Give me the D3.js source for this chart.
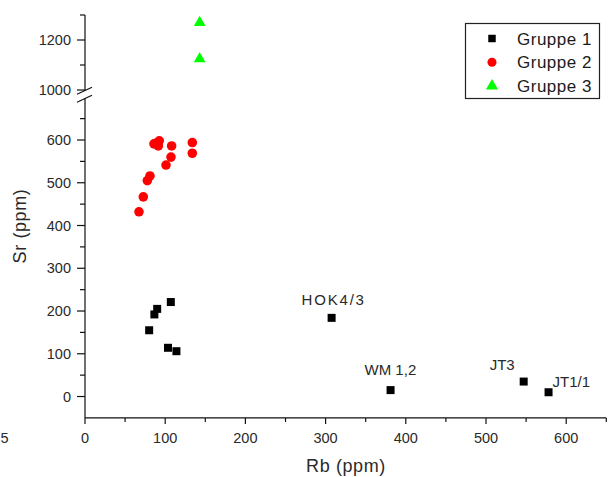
<!DOCTYPE html>
<html>
<head>
<meta charset="utf-8">
<script src="https://cdn.jsdelivr.net/npm/d3@7/dist/d3.min.js"></script>
<style>
  html, body { margin: 0; padding: 0; background: #fff; }
  svg { display: block; font-family: "Liberation Sans", Arial, sans-serif; }
</style>
</head>
<body>
<svg id="chart" width="609" height="477"></svg>
<script>
// Rb / Sr concentrations (ppm) for three sample groups
const group1Rb = [80, 86.5, 90, 107, 103.5, 114, 307.5, 381, 547, 578];
const group1Sr = [155, 192, 205, 221, 114, 106, 184, 15, 35, 10];
const group1Names = ["", "", "", "", "", "", "HOK4/3", "WM 1,2", "JT3", "JT1/1"];

const group2Rb = [67.3, 72.7, 77.7, 81, 86, 92.6, 91.4, 89, 108, 107.2, 101, 133.8, 133.8];
const group2Sr = [432, 467, 505, 516, 591, 598, 586, 593, 586, 560, 541.5, 594, 569];

const group3Rb = [143, 143];
const group3Sr = [1270, 1125];

const seriesNames = ["Gruppe 1", "Gruppe 2", "Gruppe 3"];

const xTicksMajor = [0, 100, 200, 300, 400, 500, 600];
const xTicksMinor = [50, 150, 250, 350, 450, 550, 650];
const yLowMajor = [0, 100, 200, 300, 400, 500, 600];
const yLowMinor = [50, 150, 250, 350, 450, 550, 650];
const yHighMajor = [1000, 1200];
const yHighMinor = [1100, 1300];

const svg = d3.select("#chart");
const ink = "#111";
const labelInk = "#2a2a2a";

// scales: one x axis, broken y axis made of two linear segments
const x = d3.scaleLinear().domain([0, 650]).range([85, 606.3]);
const yLow = d3.scaleLinear().domain([-50, 700]).range([417.9, 97.25]);
const yHigh = d3.scaleLinear().domain([990, 1300]).range([92.5, 15]);
const ySr = v => (v >= 800 ? yHigh(v) : yLow(v));

const axisG = svg.append("g").attr("stroke", ink).attr("stroke-width", 1.2).attr("fill", "none");

// x axis
axisG.append("line").attr("x1", x(0)).attr("x2", x(650)).attr("y1", 417.9).attr("y2", 417.9);
xTicksMajor.forEach(t => axisG.append("line").attr("x1", x(t)).attr("x2", x(t)).attr("y1", 417.9).attr("y2", 424));
xTicksMinor.forEach(t => axisG.append("line").attr("x1", x(t)).attr("x2", x(t)).attr("y1", 417.9).attr("y2", 422));

svg.append("g").selectAll("text").data(xTicksMajor).join("text")
  .attr("x", d => x(d)).attr("y", 443)
  .attr("text-anchor", "middle").attr("font-size", 14.5).attr("fill", labelInk)
  .text(d => d);
svg.append("text").attr("x", 0.5).attr("y", 443).attr("font-size", 14.5).attr("fill", labelInk).text("5");

// y axis, lower segment
const yAxisX = x(0);
axisG.append("line").attr("x1", yAxisX).attr("x2", yAxisX).attr("y1", yLow(-50)).attr("y2", 98);
yLowMajor.forEach(t => axisG.append("line").attr("x1", yAxisX - 8).attr("x2", yAxisX).attr("y1", yLow(t)).attr("y2", yLow(t)));
yLowMinor.forEach(t => axisG.append("line").attr("x1", yAxisX - 5).attr("x2", yAxisX).attr("y1", yLow(t)).attr("y2", yLow(t)));

// y axis, upper segment
axisG.append("line").attr("x1", yAxisX).attr("x2", yAxisX).attr("y1", 91).attr("y2", yHigh(1300));
yHighMajor.forEach(t => axisG.append("line").attr("x1", yAxisX - 8).attr("x2", yAxisX).attr("y1", yHigh(t)).attr("y2", yHigh(t)));
yHighMinor.forEach(t => axisG.append("line").attr("x1", yAxisX - 5).attr("x2", yAxisX).attr("y1", yHigh(t)).attr("y2", yHigh(t)));

// break marks
[90.5, 98.5].forEach(c => axisG.append("line")
  .attr("x1", yAxisX - 8).attr("y1", c + 3.7).attr("x2", yAxisX + 7).attr("y2", c - 3.3)
  .attr("stroke-width", 1.1));

const yLabels = yLowMajor.map(v => ({ v, y: yLow(v) })).concat(yHighMajor.map(v => ({ v, y: yHigh(v) })));
svg.append("g").selectAll("text").data(yLabels).join("text")
  .attr("x", yAxisX - 14).attr("y", d => d.y + 5)
  .attr("text-anchor", "end").attr("font-size", 14.5).attr("fill", labelInk)
  .text(d => d.v);

// axis titles
svg.append("text").attr("x", 346).attr("y", 472).attr("text-anchor", "middle")
  .attr("font-size", 18).attr("letter-spacing", 0.6).attr("fill", labelInk).text("Rb (ppm)");
svg.append("text").attr("transform", "translate(26,226) rotate(-90)").attr("text-anchor", "middle")
  .attr("font-size", 18).attr("letter-spacing", 0.6).attr("fill", labelInk).text("Sr (ppm)");

// markers
const sq = d3.symbol().type(d3.symbolSquare).size(64);
const ci = d3.symbol().type(d3.symbolCircle).size(72);
const tri = d3.symbol().type(d3.symbolTriangle).size(60);

const g1 = group1Rb.map((r, i) => ({ r, s: group1Sr[i], name: group1Names[i] }));
const g2 = group2Rb.map((r, i) => ({ r, s: group2Sr[i] }));
const g3 = group3Rb.map((r, i) => ({ r, s: group3Sr[i] }));

svg.append("g").selectAll("path").data(g1).join("path")
  .attr("d", sq).attr("fill", "#000")
  .attr("transform", d => `translate(${x(d.r)},${ySr(d.s)})`);
svg.append("g").selectAll("path").data(g2).join("path")
  .attr("d", ci).attr("fill", "#ff0000")
  .attr("transform", d => `translate(${x(d.r)},${ySr(d.s)})`);
svg.append("g").selectAll("path").data(g3).join("path")
  .attr("d", tri).attr("fill", "#00ff00")
  .attr("transform", d => `translate(${x(d.r)},${ySr(d.s)})`);

// sample names next to their points
const nameOffsets = {
  "HOK4/3": [-30, -13, 1.8],
  "WM 1,2": [-26, -15, 0],
  "JT3": [-34, -12, 0],
  "JT1/1": [4, -5, 0]
};
svg.append("g").selectAll("text").data(g1.filter(d => d.name)).join("text")
  .attr("x", d => x(d.r) + nameOffsets[d.name][0])
  .attr("y", d => ySr(d.s) + nameOffsets[d.name][1])
  .attr("letter-spacing", d => nameOffsets[d.name][2])
  .attr("font-size", 15).attr("fill", labelInk)
  .text(d => d.name);

// legend
const lg = svg.append("g");
lg.append("rect").attr("x", 465.5).attr("y", 23.5).attr("width", 134).attr("height", 75)
  .attr("fill", "#fff").attr("stroke", "#222").attr("stroke-width", 1.2);
const legSyms = [
  d3.symbol().type(d3.symbolSquare).size(56),
  d3.symbol().type(d3.symbolCircle).size(64),
  d3.symbol().type(d3.symbolTriangle).size(64)
];
const legColors = ["#000", "#ff0000", "#00ff00"];
seriesNames.forEach((name, i) => {
  const cy = 38.5 + i * 23.8;
  lg.append("path").attr("d", legSyms[i]()).attr("fill", legColors[i])
    .attr("transform", `translate(492,${cy})`);
  lg.append("text").attr("x", 517).attr("y", cy + 6).attr("font-size", 17)
    .attr("letter-spacing", 0.5).attr("fill", "#1a1a1a").text(name);
});
</script>
</body>
</html>
